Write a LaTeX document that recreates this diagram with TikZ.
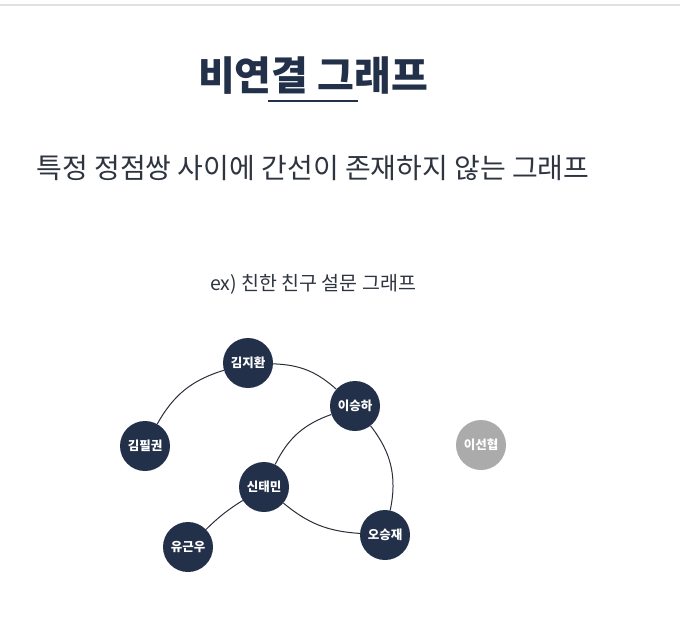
\documentclass[tikz,border=0pt]{standalone}
\usepackage{fontspec}
\setmainfont{Noto Sans CJK KR}
\definecolor{navy}{HTML}{22304A}
\definecolor{txt}{HTML}{2E3440}
\definecolor{offnode}{HTML}{ABABAB}
\definecolor{edgec}{HTML}{2A2F38}
\tikzset{
  person/.style={circle, fill=navy, minimum size=50pt, inner sep=0pt, text=white,
    font=\bfseries\fontsize{12.5}{12.5}\selectfont},
  offperson/.style={person, fill=offnode},
  link/.style={draw=edgec, line width=1pt}
}
\begin{document}
\begin{tikzpicture}[x=1pt,y=-1pt]
\useasboundingbox (0,0) rectangle (680,630);
\fill[white] (0,0) rectangle (680,630);
\draw[black!12, line width=1.2pt] (0,5) -- (680,5);
\node[text=navy, font=\bfseries\fontsize{40}{40}\selectfont] (title) at (313,76) {비연결 그래프};
\draw[navy, line width=2pt] (268,101) -- (358,101);
\node[text=txt, font=\fontsize{28}{28}\selectfont] (sub) at (313,168) {특정 정점쌍 사이에 간선이 존재하지 않는 그래프};
\node[text=txt, font=\fontsize{19.5}{19.5}\selectfont] (ex) at (313,284) {ex) 친한 친구 설문 그래프};

\node[person] (kjh) at (248,363) {김지환};
\node[person] (lsh) at (355,406) {이승하};
\node[person] (kpk) at (145,446) {김필권};
\node[person] (stm) at (264,487) {신태민};
\node[person] (ygw) at (188,547) {유근우};
\node[person] (osj) at (385,535) {오승재};
\node[offperson] (lsy) at (481,445) {이선협};

\draw[link] (kpk) to[bend left=22] (kjh);
\draw[link] (kjh) to[bend left=20] (lsh);
\draw[link] (stm) to[bend left=22] (lsh);
\draw[link] (lsh) to[bend left=25] (osj);
\draw[link] (stm) to[bend right=18] (osj);
\draw[link] (stm) to[bend right=6] (ygw);
\end{tikzpicture}
\end{document}
